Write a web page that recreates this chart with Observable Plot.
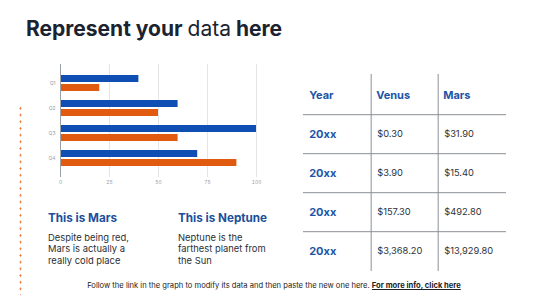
<!DOCTYPE html>
<html>
<head>
<meta charset="utf-8">
<script src="https://cdn.jsdelivr.net/npm/d3@7"></script>
<script src="https://cdn.jsdelivr.net/npm/@observablehq/plot@0.6"></script>
<style>
  html, body { margin: 0; padding: 0; background: #ffffff; }
  body { width: 548px; height: 308px; position: relative; overflow: hidden; font-family: Inter, "Noto Sans", sans-serif; color: #1f2937; }
  .abs { position: absolute; }
  #title { left: 26px; top: 16px; font-size: 21px; font-weight: 700; color: #1c2330; letter-spacing: 0px; white-space: nowrap; }
  #title .reg { font-weight: 400; }
  #dots { left: 19px; top: 105px; width: 3px; height: 190px;
    background-image: radial-gradient(circle, #e8712a 0.9px, transparent 1.1px);
    background-size: 3px 6.7px; }
  .head { font-size: 11.7px; font-weight: 700; color: #1b4f9c; white-space: nowrap; }
  .body { font-size: 9.4px; line-height: 11.3px; color: #2a2f36; }
  #footer { left: 0; width: 548px; top: 281px; text-align: center; font-size: 7.6px; color: #222; white-space: nowrap; }
  #footer b { text-decoration: underline; }
  #chart { left: 20px; top: 60px; }
  #table { left: 290px; top: 70px; }
</style>
</head>
<body>
<div id="title" class="abs">Represent your <span class="reg">data</span> here</div>
<div id="dots" class="abs"></div>
<div id="chart" class="abs"></div>
<div id="table" class="abs"></div>
<div class="abs head" style="left:48px; top:211px;">This is Mars</div>
<div class="abs body" style="left:48px; top:232px;">Despite being red,<br>Mars is actually a<br>really cold place</div>
<div class="abs head" style="left:178px; top:211px;">This is Neptune</div>
<div class="abs body" style="left:178px; top:232px;">Neptune is the<br>farthest planet from<br>the Sun</div>
<div id="footer" class="abs">Follow the link in the graph to modify its data and then paste the new one here. <b>For more info, click here</b></div>
<script>
// Chart data
const quarters = ["Q1", "Q2", "Q3", "Q4"];
const seriesA = [40, 60, 100, 70];   // blue
const seriesB = [20, 50, 60, 90];    // orange
const xTicks = [0, 25, 50, 75, 100];

// Table data
const tableColumns = ["Year", "Venus", "Mars"];
const tableYears = ["20xx", "20xx", "20xx", "20xx"];
const venusValues = ["$0.30", "$3.90", "$157.30", "$3,368.20"];
const marsValues = ["$31.90", "$15.40", "$492.80", "$13,929.80"];

const blue = "#0f4fb4";
const orange = "#e05a10";

const dataA = quarters.map((q, i) => ({q, v: seriesA[i]}));
const dataB = quarters.map((q, i) => ({q, v: seriesB[i]}));

const chart = Plot.plot({
  width: 250,
  height: 135,
  marginLeft: 40,
  marginRight: 14,
  marginTop: 4,
  marginBottom: 18,
  style: {fontFamily: "Inter, sans-serif", fontSize: "5px", color: "#9aa0a6", background: "transparent"},
  x: {domain: [0, 100], ticks: xTicks, tickSize: 0, tickPadding: 3, label: null, grid: false},
  y: {domain: quarters, padding: 0.35, tickSize: 0, tickPadding: 5, label: null},
  marks: [
    Plot.ruleX(xTicks.slice(1), {stroke: "#e3e5e8", strokeWidth: 1, strokeOpacity: 1}),
    Plot.barX(dataA, {y: "q", x: "v", fill: blue, insetBottom: 9}),
    Plot.barX(dataB, {y: "q", x: "v", fill: orange, insetTop: 9}),
    Plot.ruleX([0], {stroke: "#9aa0a6", strokeWidth: 1})
  ]
});
document.getElementById("chart").appendChild(chart);

// Table as Plot
const rows = ["h", "r1", "r2", "r3", "r4"];
const cells = [];
tableColumns.forEach(c => cells.push({row: "h", col: c, text: c, head: true}));
tableYears.forEach((y, i) => {
  cells.push({row: rows[i + 1], col: "Year", text: y, head: true});
  cells.push({row: rows[i + 1], col: "Venus", text: venusValues[i], head: false});
  cells.push({row: rows[i + 1], col: "Mars", text: marsValues[i], head: false});
});

const tW = 230, tH = 205, tML = 13, tMR = 14, tMT = 4, tMB = 4;
const colBand = (tW - tML - tMR) / tableColumns.length;
const rowBand = (tH - tMT - tMB) / rows.length;

const table = Plot.plot({
  width: tW,
  height: tH,
  marginLeft: tML,
  marginRight: tMR,
  marginTop: tMT,
  marginBottom: tMB,
  style: {fontFamily: "Inter, sans-serif", background: "transparent"},
  x: {type: "band", domain: tableColumns, padding: 0, axis: null},
  y: {type: "band", domain: rows, padding: 0, axis: null},
  marks: [
    Plot.ruleY(rows.slice(0, 4), {y: d => d, dy: rowBand / 2, stroke: "#8a8f96", strokeWidth: 1}),
    Plot.ruleX(tableColumns.slice(1), {x: d => d, dx: -colBand / 2, stroke: "#8a8f96", strokeWidth: 1}),
    Plot.text(cells.filter(d => d.head), {x: "col", y: "row", text: "text", textAnchor: "start", dx: -colBand / 2 + 5, fill: "#1d55a6", fontWeight: 700, fontSize: 11}),
    Plot.text(cells.filter(d => !d.head), {x: "col", y: "row", text: "text", textAnchor: "start", dx: -colBand / 2 + 6, fill: "#2e3238", fontSize: 9.3})
  ]
});
document.getElementById("table").appendChild(table);
</script>
</body>
</html>
